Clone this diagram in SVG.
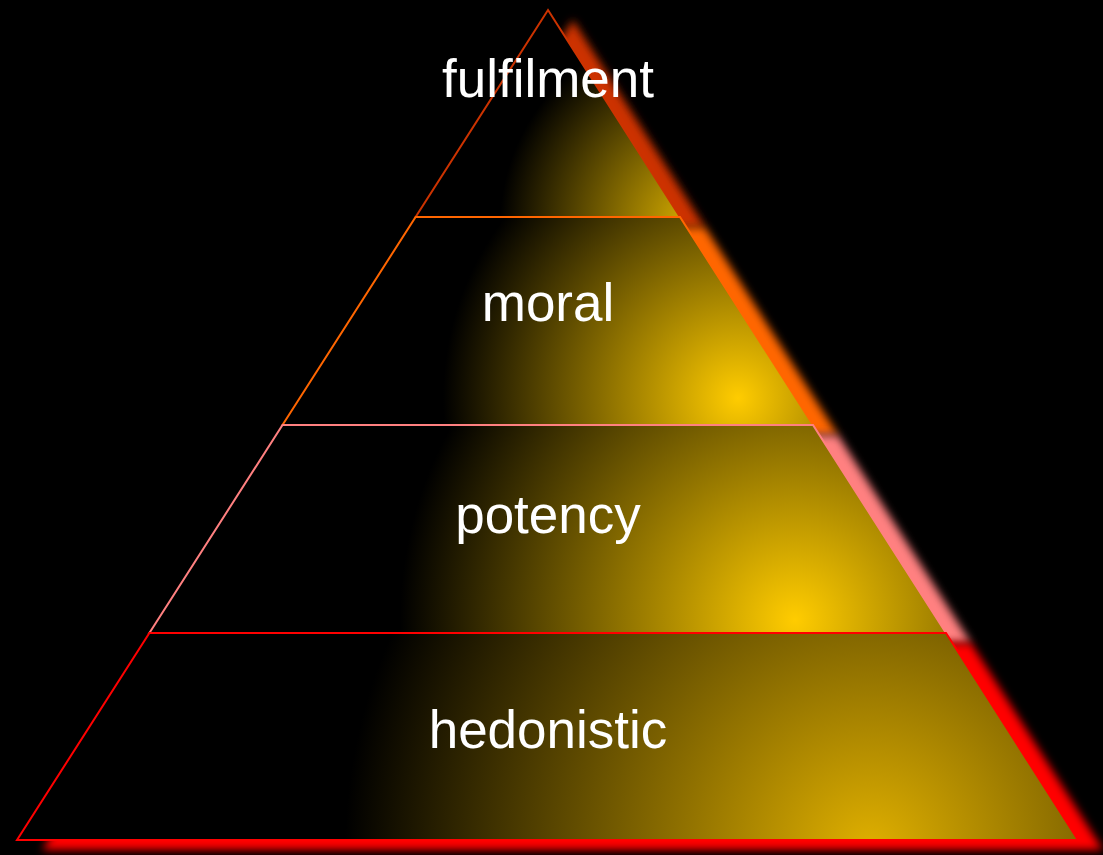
<svg xmlns="http://www.w3.org/2000/svg" width="1103" height="855" viewBox="0 0 1103 855">
<defs>
<radialGradient id="g1" gradientUnits="userSpaceOnUse" cx="700" cy="225" r="200">
<stop offset="0" stop-color="#E0B400"/>
<stop offset="1" stop-color="#000000"/>
</radialGradient>
<radialGradient id="g2" gradientUnits="userSpaceOnUse" cx="738" cy="398" r="295">
<stop offset="0" stop-color="#FFCC00"/>
<stop offset="1" stop-color="#000000"/>
</radialGradient>
<radialGradient id="g3" gradientUnits="userSpaceOnUse" cx="795" cy="620" r="395">
<stop offset="0" stop-color="#FFCC00"/>
<stop offset="1" stop-color="#000000"/>
</radialGradient>
<radialGradient id="g4" gradientUnits="userSpaceOnUse" cx="870" cy="850" r="525">
<stop offset="0" stop-color="#E0B000"/>
<stop offset="1" stop-color="#000000"/>
</radialGradient>
<filter id="shadow" x="-10%" y="-10%" width="130%" height="130%">
<feGaussianBlur stdDeviation="4"/>
</filter>
</defs>
<style>
text{font-family:"Liberation Sans",Arial,sans-serif;font-size:53px;fill:#FFFFFF;text-anchor:middle}
.band{stroke-width:2;stroke-linejoin:miter}
.sh{filter:url(#shadow)}
</style>
<rect width="1103" height="855" fill="#000000"/>
<g id="shadows">
<polygon class="sh" transform="translate(25,10)" points="548,10 680,217 415.6,217" fill="#CC3300"/>
<polygon class="sh" transform="translate(25,10)" points="415.6,217 680,217 813,425 282.5,425" fill="#FF6600"/>
<polygon class="sh" transform="translate(25,10)" points="282.5,425 813,425 946,633 149.4,633" fill="#FF8080"/>
<polygon class="sh" transform="translate(25,10)" points="149.4,633 946,633 1078,840 17,840" fill="#FF0000"/>
</g>
<g id="fulfilment">
<polygon class="band" points="548,10 680,217 415.6,217" fill="url(#g1)" stroke="#CC3300"/>
<text x="548" y="97">fulfilment</text>
</g>
<g id="moral">
<polygon class="band" points="415.6,217 680,217 813,425 282.5,425" fill="url(#g2)" stroke="#FF6600"/>
<text x="548" y="321">moral</text>
</g>
<g id="potency">
<polygon class="band" points="282.5,425 813,425 946,633 149.4,633" fill="url(#g3)" stroke="#FF8080"/>
<text x="548" y="533">potency</text>
</g>
<g id="hedonistic">
<polygon class="band" points="149.4,633 946,633 1078,840 17,840" fill="url(#g4)" stroke="#FF0000"/>
<text x="548" y="748">hedonistic</text>
</g>
<g id="connectors"/>
</svg>
